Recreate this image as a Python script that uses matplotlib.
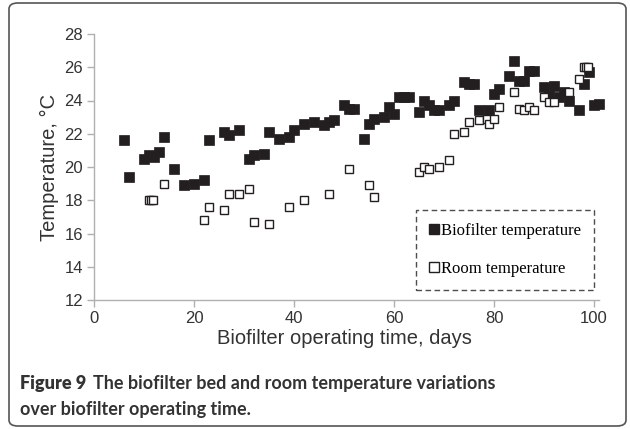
import numpy as np
import matplotlib
matplotlib.use('Agg')
import matplotlib.pyplot as plt
from matplotlib.patches import FancyBboxPatch
from matplotlib.lines import Line2D

# biofilter bed temperature (filled squares)
bio_days = [6, 7, 10, 11, 12, 13, 14, 16, 18, 20,
            22, 23, 26, 27, 29, 31, 32, 34, 35, 37,
            39, 40, 42, 44, 46, 47, 48, 50, 51, 52,
            54, 55, 56, 58, 59, 60, 61, 62, 63, 65,
            66, 67, 68, 69, 71, 72, 74, 75, 76, 77,
            79, 80, 81, 83, 84, 85, 86, 87, 88, 90,
            91, 92, 93, 94, 95, 97, 98, 99, 100, 101]
bio_temp = [21.6, 19.4, 20.5, 20.7, 20.6, 20.9, 21.8, 19.9, 18.9, 19.0,
            19.2, 21.6, 22.1, 21.9, 22.2, 20.5, 20.7, 20.8, 22.1, 21.7,
            21.8, 22.2, 22.6, 22.7, 22.5, 22.7, 22.8, 23.7, 23.5, 23.5,
            21.7, 22.6, 22.9, 23.0, 23.6, 23.2, 24.2, 24.2, 24.2, 23.3,
            24.0, 23.7, 23.4, 23.4, 23.7, 24.0, 25.1, 25.0, 25.0, 23.4,
            23.4, 24.4, 24.7, 25.5, 26.4, 25.2, 25.2, 25.8, 25.8, 24.8,
            24.3, 24.9, 24.2, 24.5, 24.0, 23.4, 25.0, 25.7, 23.7, 23.8]

# room temperature (open squares)
room_days = [11, 11.4, 11.8, 14, 22, 23, 26, 27, 29, 31, 32, 35, 39, 42, 47,
             51, 55, 56, 65, 66, 67, 69, 71, 72, 74, 75, 77, 78.6, 79, 80, 81,
             84, 85, 86, 87, 88, 90, 91, 92, 95, 97, 98, 98.4, 98.8]
room_temp = [18.0, 18.0, 18.0, 19.0, 16.8, 17.6, 17.4, 18.4, 18.4, 18.7, 16.7, 16.6, 17.6, 18.0, 18.4,
             19.9, 18.9, 18.2, 19.7, 20.0, 19.9, 20.0, 20.4, 22.0, 22.1, 22.7, 22.8, 22.9, 22.6, 22.9, 23.6,
             24.5, 23.5, 23.4, 23.6, 23.4, 24.2, 23.9, 23.9, 24.5, 25.3, 26.0, 26.0, 26.0]

fig = plt.figure(figsize=(6.3, 4.29), dpi=100)
ax = fig.add_axes([94/630, 1-300/429, 500/630, 266/429])

ax.plot(bio_days, bio_temp, 's', ms=6.8, mfc='#231f20', mec='#231f20',
        mew=0.5, clip_on=False, label='Biofilter temperature')
ax.plot(room_days, room_temp, 's', ms=6.3, mfc='white', mec='#231f20',
        mew=1.0, clip_on=False, label='Room temperature')

ax.set_xlim(0, 100)
ax.set_ylim(12, 28)
ax.set_xticks(np.arange(0, 101, 20))
ax.set_yticks(np.arange(12, 29, 2))
for s in ['top', 'right']:
    ax.spines[s].set_visible(False)
for s in ['left', 'bottom']:
    ax.spines[s].set_color('#b0b0b0')
    ax.spines[s].set_linewidth(1.0)
ax.spines['bottom'].set_bounds(0, 101)
ax.tick_params(axis='both', direction='out', length=5, width=1, color='#b0b0b0',
               labelsize=12, labelcolor='#333333', pad=3)
for lab in ax.get_xticklabels() + ax.get_yticklabels():
    lab.set_family('Liberation Sans')

ax.set_xlabel('Biofilter operating time, days', size=14.5, family='Liberation Sans',
              color='#333333', labelpad=2)
ax.set_ylabel('Temperature, \u00b0C', size=14.5, family='Liberation Sans',
              color='#333333', labelpad=4)

handles = [Line2D([], [], ls='none', marker='s', ms=6.5, mfc='#231f20', mec='#231f20'),
           Line2D([], [], ls='none', marker='s', ms=6.5, mfc='white', mec='#231f20', mew=1.0)]
leg = ax.legend(handles, ['Biofilter temperature', 'Room temperature'],
                loc='upper left', bbox_to_anchor=(416/630, 1-210/429),
                bbox_transform=fig.transFigure, frameon=True, fancybox=False,
                prop={'family': 'Liberation Serif', 'size': 12},
                handlelength=0.6, handletextpad=0.15, labelspacing=1.35,
                borderpad=0.75, borderaxespad=0)
leg.get_frame().set_edgecolor('#231f20')
leg.get_frame().set_linestyle((0, (4, 2.5)))
leg.get_frame().set_linewidth(1.0)

# outer rounded frame
frame = FancyBboxPatch((9/630, 3/429), 617/630, 423/429,
                       boxstyle='round,pad=0,rounding_size=0.014',
                       transform=fig.transFigure, fill=False,
                       edgecolor='#555555', linewidth=1.2)
fig.patches.append(frame)

fig.text(20/630, 1-384/429, 'Figure 9', fontsize=13, fontweight='heavy',
         family='Lato', color='#333333', va='center')
fig.text(93/630, 1-384/429, 'The biofilter bed and room temperature variations',
         fontsize=13, fontweight='bold', family='Lato', color='#333333', va='center')
fig.text(20/630, 1-410/429, 'over biofilter operating time.',
         fontsize=13, fontweight='bold', family='Lato', color='#333333', va='center')

plt.savefig('out.png', dpi=100)
